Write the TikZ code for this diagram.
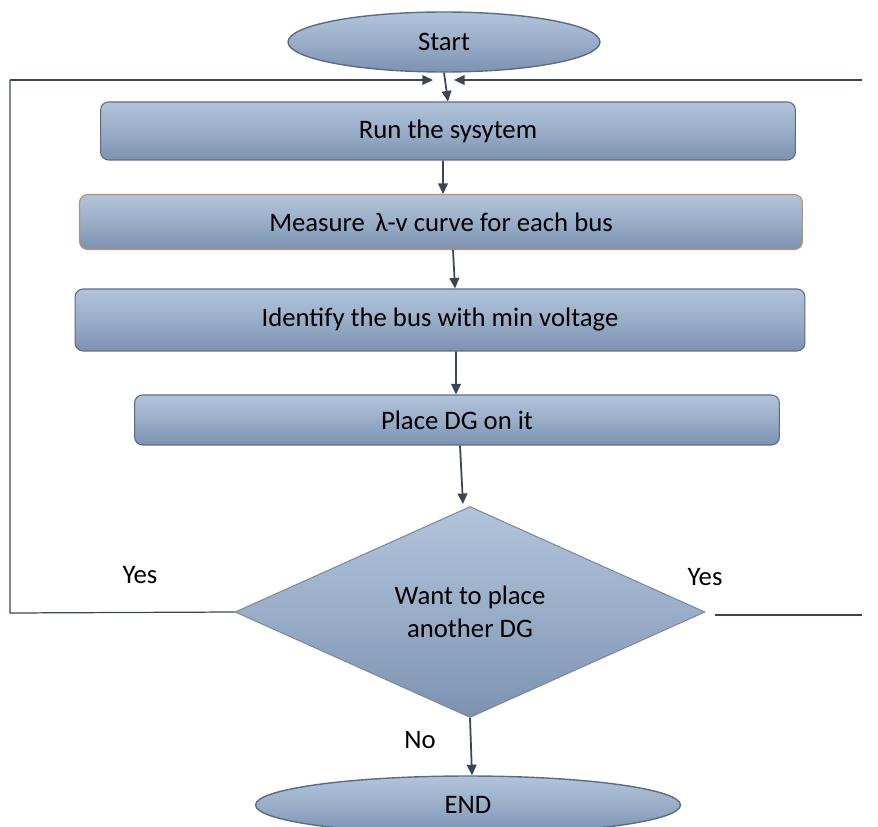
\documentclass[tikz,border=0pt]{standalone}
\usepackage{fontspec}
\setmainfont{Carlito}
\usetikzlibrary{shapes.geometric,arrows.meta}
\definecolor{boxtop}{HTML}{B2C4DB}
\definecolor{boxbot}{HTML}{7B92B1}
\definecolor{boxedge}{HTML}{5C6B82}
\definecolor{lineclr}{HTML}{3A4556}
\tikzset{
  flowbox/.style={rectangle, rounded corners=0.16cm, top color=boxtop, bottom color=boxbot,
    middle color=boxtop!55!boxbot, draw=boxedge, line width=0.6pt, inner sep=0pt},
  terminal/.style={ellipse, top color=boxtop, bottom color=boxbot, middle color=boxtop!55!boxbot,
    draw=boxedge, line width=0.8pt, inner sep=0pt},
  decision/.style={diamond, top color=boxtop, bottom color=boxbot, middle color=boxtop!55!boxbot,
    draw=boxedge!80, line width=0.6pt, inner sep=0pt, align=center},
  flowarrow/.style={draw=lineclr, line width=1pt, -{Triangle[width=5.5pt,length=6pt]}},
  loopline/.style={draw=lineclr, line width=0.7pt}
}
\begin{document}
\begin{tikzpicture}[x=0.02cm, y=-0.02cm, font=\fontsize{15.2}{18.5}\selectfont]
			\useasboundingbox (0,0) rectangle (878,827);
			
			% terminals and steps
			\node[terminal, minimum width=6.24cm, minimum height=1.2cm] (start) at (444,42) {Start};
			\node[flowbox, minimum width=13.9cm, minimum height=1.16cm] (run) at (448,131) {Run the sysytem};
			\node[flowbox, draw={rgb,255:red,190;green,140;blue,110}, minimum width=14.46cm, minimum height=1.1cm] (measure) at (441,222) {Measure \,λ-v curve for each bus};
			\node[flowbox, minimum width=14.6cm, minimum height=1.24cm] (identify) at (440,320) {Identify the bus with min voltage};
			\node[flowbox, minimum width=12.9cm, minimum height=1cm] (place) at (457,420) {Place DG on it};
			\node[decision, minimum width=9.4cm, minimum height=4.22cm] (want) at (470,612) {Want to place\\another DG};
			\node[terminal, minimum width=8.5cm, minimum height=1.16cm] (end) at (468,805) {END};
			
			% loop lines
			\coordinate (lbot) at (10,613);
			\coordinate (ltop) at (10,80);
			\coordinate (lend) at (433,80);
			\coordinate (rstart) at (715,615);
			\coordinate (rbot) at (862,615);
			\coordinate (rtop) at (862,80);
			\coordinate (rend) at (454,80);
			
			% connectors
			\draw[flowarrow] (start.south) -- (run.north);
			\draw[flowarrow] ([xshift=-0.1cm]run.south) -- ([xshift=0.04cm]measure.north);
			\draw[flowarrow] ([xshift=0.24cm]measure.south) -- ([xshift=0.3cm]identify.north);
			\draw[flowarrow] ([xshift=0.32cm]identify.south) -- ([xshift=-0.02cm]place.north);
			\draw[flowarrow] ([xshift=0.06cm]place.south) -- ([xshift=-0.14cm,yshift=0.04cm]want.north);
			\draw[flowarrow] (want.south) -- ([xshift=0.08cm]end.north);
			\draw[loopline] (want.west) -- (lbot) -- (ltop);
			\draw[loopline, -{Triangle[width=5.5pt,length=6pt]}] (ltop) -- (lend);
			\draw[loopline] (rstart) -- (rbot);
			\draw[loopline, -{Triangle[width=5.5pt,length=6pt]}] (rtop) -- (rend);
			
			% labels
			\node (yesl) at (140,575) {Yes};
			\node (yesr) at (705,577) {Yes};
			\node (no) at (420,740) {No};
		\end{tikzpicture}
\end{document}
